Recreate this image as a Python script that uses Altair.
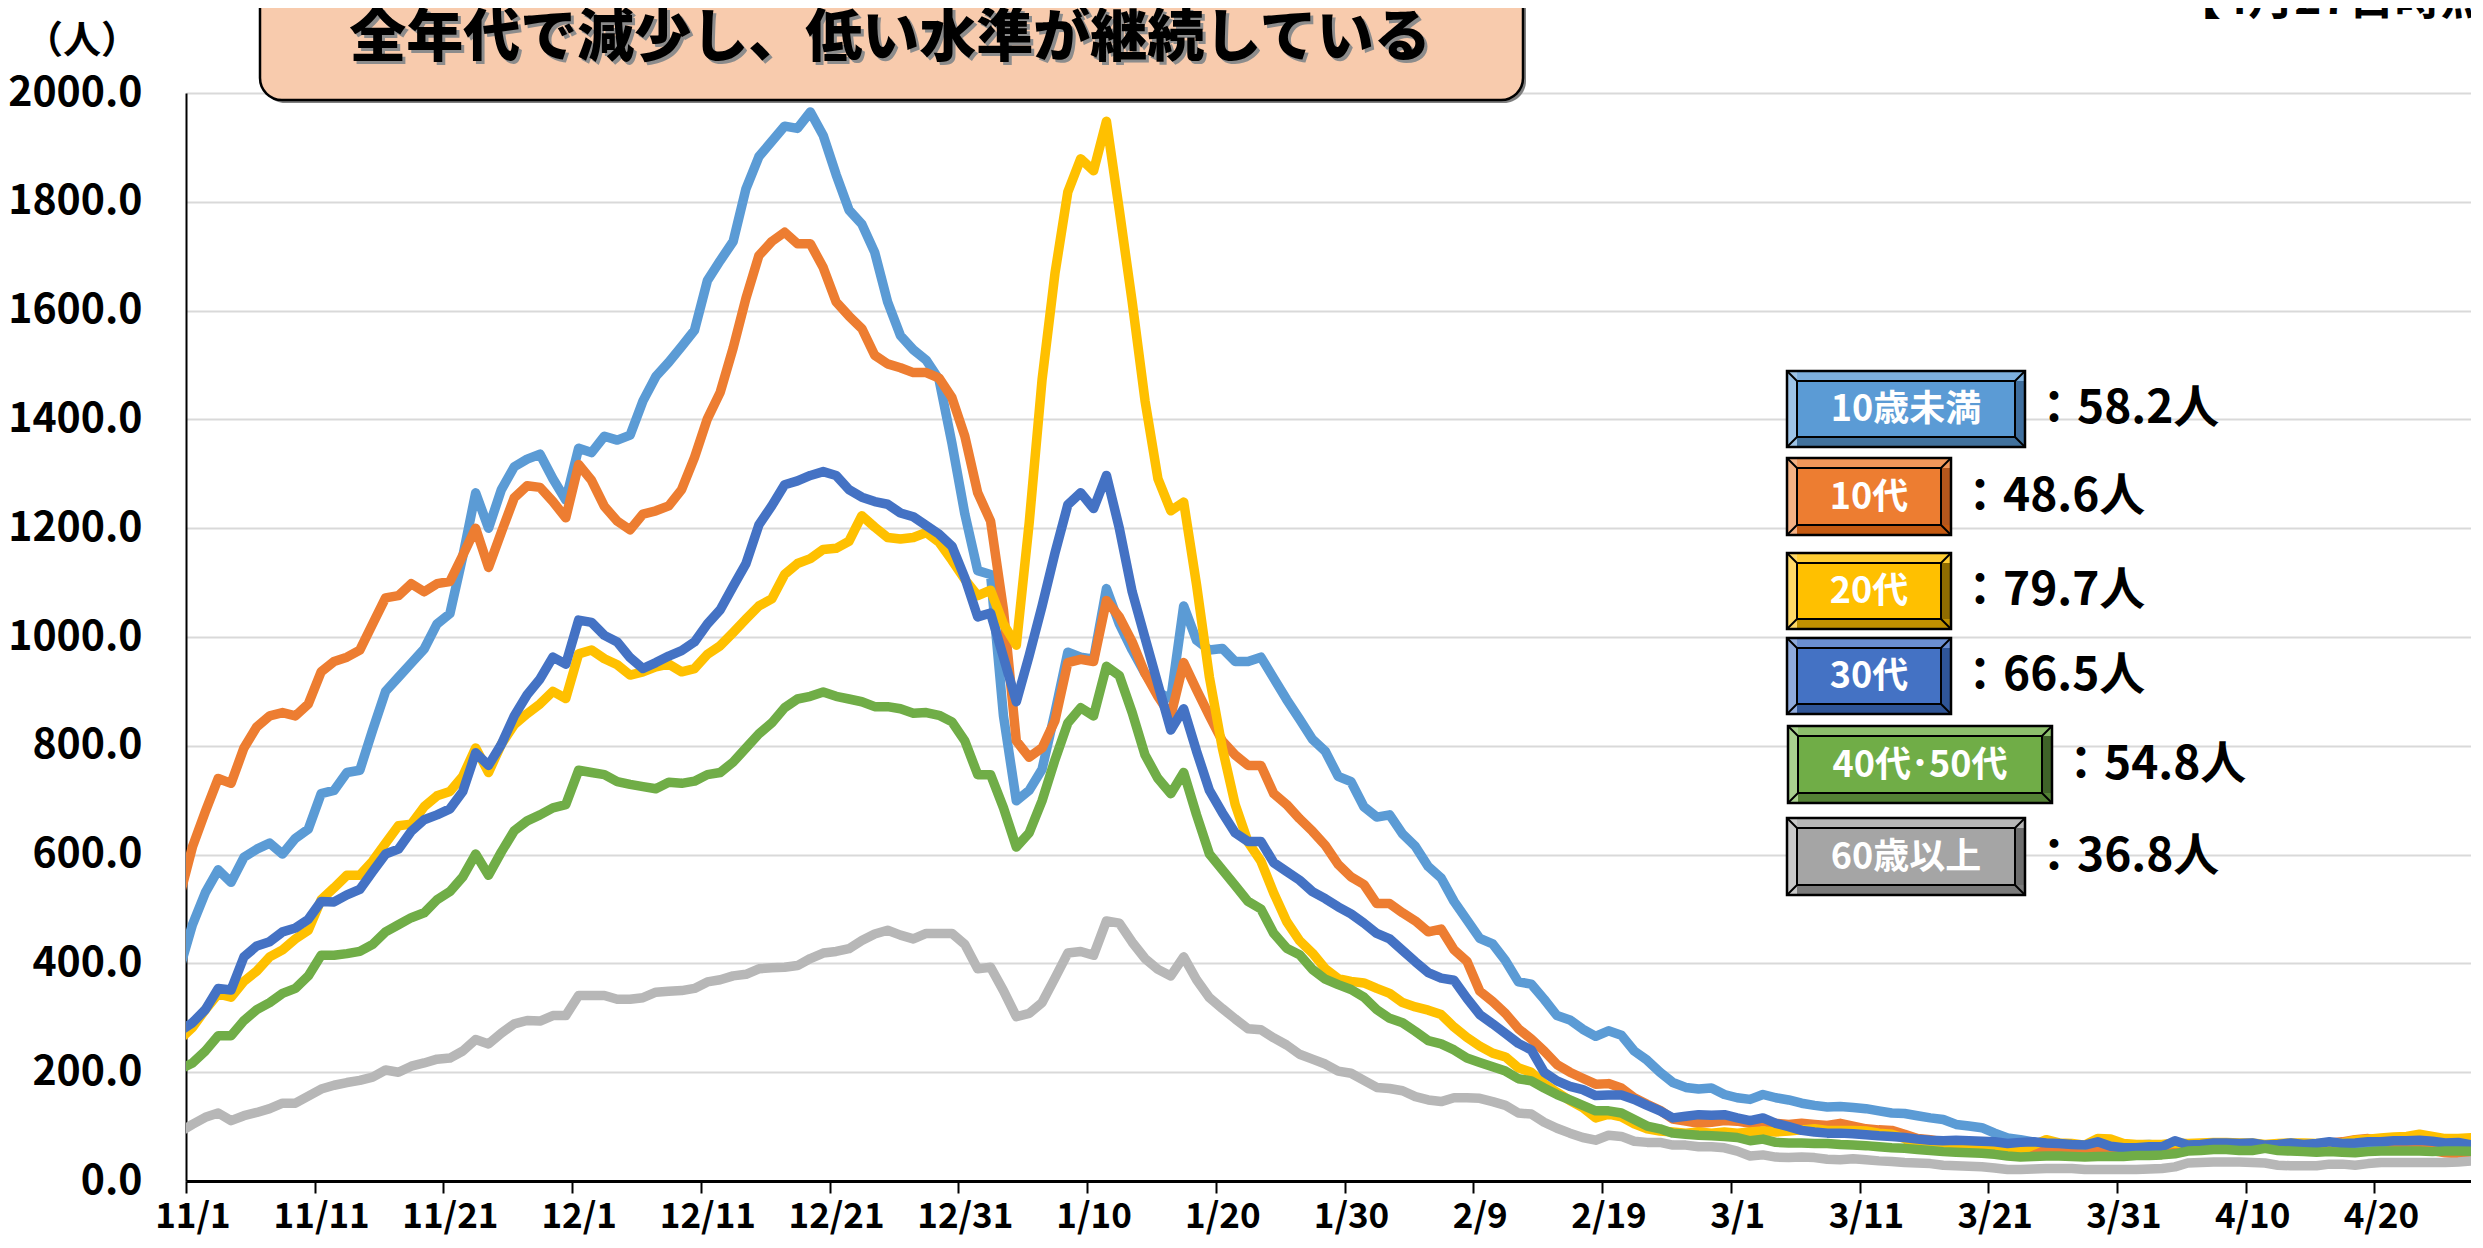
import altair as alt
import pandas as pd

FONT = "Noto Sans CJK JP"

# ---- data (daily values, 2022-10-31 .. 2023-04-27) ----
start_date = "2022-10-31"
series_names = ["10歳未満", "10代", "20代", "30代", "40代・50代", "60歳以上"]
box_labels = ["10歳未満", "10代", "20代", "30代", "40代･50代", "60歳以上"]
line_colors = ["#5B9BD5", "#ED7D31", "#FFC000", "#4472C4", "#70AD47", "#B7B7B7"]
latest_values = ["58.2", "48.6", "79.7", "66.5", "54.8", "36.8"]

u10 = [390,
       471, 530, 572, 549, 595, 610, 621, 601, 630, 647,
       712, 718, 751, 755, 829, 900, 926, 952, 978, 1024,
       1043, 1148, 1265, 1200, 1271, 1313, 1327, 1336, 1291, 1252,
       1347, 1339, 1369, 1362, 1371, 1434, 1479, 1505, 1534, 1564,
       1655, 1692, 1727, 1824, 1883, 1911, 1939, 1935, 1965, 1922,
       1850, 1785, 1759, 1707, 1616, 1554, 1528, 1509, 1473, 1356,
       1226, 1122, 1115, 855, 699, 718, 757, 861, 972, 963,
       959, 1089, 1024, 976, 933, 898, 887, 1057, 994, 976,
       979, 955, 955, 963, 924, 885, 849, 812, 790, 744,
       734, 688, 669, 673, 638, 615, 578, 557, 514, 480,
       446, 436, 405, 366, 362, 334, 304, 296, 279, 266,
       276, 268, 239, 222, 200, 181, 172, 169, 171, 159,
       153, 150, 159, 153, 149, 143, 139, 136, 137, 135,
       133, 129, 125, 124, 120, 116, 113, 104, 101, 98,
       88, 79, 76, 72, 64, 63, 61, 61, 60, 62,
       64, 66, 67, 65, 63, 62, 64, 63, 61, 60,
       62, 63, 62, 60, 59, 58, 60, 61, 60, 61,
       62, 60, 59, 60, 61, 60, 59, 58.2]

t10 = [523,
       614, 679, 740, 731, 796, 835, 855, 861, 855, 877,
       936, 955, 963, 976, 1024, 1072, 1076, 1098, 1083, 1098,
       1102, 1150, 1200, 1128, 1193, 1256, 1278, 1275, 1249, 1219,
       1317, 1288, 1240, 1213, 1197, 1226, 1232, 1241, 1271, 1330,
       1401, 1450, 1531, 1623, 1701, 1727, 1744, 1723, 1723, 1679,
       1616, 1590, 1567, 1518, 1502, 1495, 1486, 1486, 1476, 1440,
       1369, 1265, 1213, 1050, 809, 779, 796, 846, 953, 959,
       955, 1067, 1037, 991, 933, 891, 855, 953, 903, 855,
       809, 783, 764, 764, 712, 692, 666, 643, 617, 582,
       559, 545, 510, 510, 493, 478, 458, 463, 425, 404,
       349, 330, 308, 280, 261, 239, 214, 200, 189, 178,
       179, 171, 153, 141, 130, 114, 110, 106, 108, 111,
       110, 106, 109, 106, 104, 106, 104, 102, 106, 101,
       96, 94, 93, 86, 78, 76, 72, 70, 67, 66,
       61, 60, 60, 60, 58, 58, 59, 57, 56, 57,
       58, 60, 62, 63, 62, 61, 62, 63, 62, 60,
       61, 62, 63, 64, 66, 68, 70, 72, 76, 78,
       74, 70, 65, 60, 56, 52, 50, 48.6]

t20 = [260,
       282, 315, 344, 338, 367, 386, 412, 425, 445, 461,
       517, 539, 562, 562, 588, 621, 653, 656, 688, 708,
       716, 744, 796, 751, 803, 839, 859, 877, 900, 887,
       969, 976, 960, 949, 930, 936, 945, 950, 936, 942,
       968, 984, 1008, 1033, 1057, 1070, 1115, 1135, 1144, 1161,
       1163, 1176, 1223, 1202, 1183, 1180, 1183, 1192, 1174, 1141,
       1106, 1076, 1086, 1024, 985, 1210, 1473, 1668, 1818, 1879,
       1857, 1948, 1785, 1616, 1434, 1291, 1232, 1248, 1096, 926,
       796, 692, 623, 588, 529, 477, 442, 419, 390, 372,
       367, 364, 354, 345, 328, 320, 314, 306, 283, 264,
       248, 235, 228, 208, 200, 179, 163, 148, 135, 116,
       123, 118, 105, 96, 92, 90, 88, 90, 88, 90,
       88, 90, 92, 90, 92, 94, 96, 93, 93, 93,
       92, 88, 86, 78, 63, 60, 58, 58, 58, 56,
       55, 53, 56, 66, 76, 70, 69, 66, 78, 77,
       69, 67, 67, 67, 70, 69, 70, 71, 71, 70,
       70, 67, 69, 70, 70, 69, 70, 70, 75, 77,
       79, 81, 82, 86, 82, 78, 78, 79.7]

t30 = [275,
       291, 315, 354, 351, 412, 432, 440, 458, 465, 481,
       514, 513, 526, 536, 569, 601, 610, 643, 664, 673,
       684, 716, 787, 764, 803, 855, 894, 923, 963, 950,
       1031, 1027, 1003, 991, 962, 942, 953, 965, 975, 991,
       1024, 1050, 1093, 1135, 1206, 1241, 1280, 1287, 1297, 1304,
       1297, 1271, 1257, 1249, 1244, 1228, 1221, 1205, 1189, 1167,
       1109, 1037, 1044, 963, 881, 966, 1057, 1154, 1243, 1265,
       1236, 1297, 1200, 1083, 998, 913, 829, 868, 790, 718,
       677, 640, 624, 624, 585, 569, 553, 532, 519, 504,
       491, 474, 455, 445, 424, 403, 383, 373, 369, 336,
       306, 289, 271, 253, 241, 200, 184, 174, 168, 157,
       158, 158, 150, 139, 129, 116, 119, 122, 121, 122,
       116, 111, 116, 106, 100, 93, 90, 88, 88, 87,
       85, 83, 82, 80, 77, 75, 74, 75, 74, 73,
       72, 69, 71, 72, 70, 69, 67, 66, 72, 64,
       61, 61, 63, 63, 74, 66, 67, 70, 70, 69,
       70, 66, 67, 70, 67, 69, 72, 69, 70, 72,
       72, 74, 74, 75, 73, 70, 71, 66.5]

t40 = [205,
       217, 239, 267, 267, 295, 315, 328, 345, 354, 377,
       415, 415, 418, 422, 435, 458, 471, 484, 493, 517,
       532, 559, 601, 562, 605, 644, 662, 673, 686, 692,
       755, 751, 747, 734, 729, 725, 721, 733, 731, 735,
       747, 751, 770, 796, 822, 842, 870, 886, 891, 899,
       891, 886, 881, 872, 872, 868, 860, 861, 856, 844,
       809, 747, 747, 686, 614, 640, 699, 774, 842, 870,
       855, 946, 929, 861, 783, 740, 712, 751, 673, 601,
       572, 543, 514, 500, 455, 428, 416, 389, 371, 361,
       352, 338, 315, 299, 291, 275, 258, 252, 241, 226,
       218, 210, 202, 188, 184, 171, 159, 149, 139, 129,
       129, 125, 113, 101, 96, 88, 86, 84, 83, 82,
       80, 74, 77, 71, 70, 70, 69, 69, 67, 66,
       65, 63, 61, 60, 58, 56, 54, 53, 52, 51,
       49, 46, 44, 45, 46, 46, 45, 44, 45, 45,
       45, 47, 47, 48, 50, 55, 56, 58, 58, 56,
       56, 60, 56, 55, 54, 53, 54, 53, 52, 54,
       55, 55, 55, 55, 54, 55, 55, 54.8]

t60 = [90,
       104, 117, 125, 111, 120, 126, 133, 143, 143, 156,
       169, 176, 181, 185, 191, 204, 200, 211, 217, 224,
       226, 239, 260, 252, 272, 289, 295, 294, 304, 304,
       341, 341, 341, 334, 334, 337, 347, 349, 350, 354,
       366, 370, 377, 380, 390, 392, 393, 396, 409, 419,
       422, 427, 442, 454, 461, 452, 445, 455, 455, 455,
       435, 390, 393, 350, 302, 308, 328, 373, 419, 422,
       415, 478, 474, 439, 409, 389, 377, 412, 370, 337,
       317, 298, 280, 278, 263, 250, 233, 224, 215, 202,
       198, 185, 172, 170, 166, 155, 149, 146, 153, 153,
       152, 146, 139, 125, 123, 108, 97, 88, 80, 75,
       84, 82, 73, 71, 71, 66, 66, 63, 63, 61,
       55, 46, 48, 44, 43, 44, 43, 40, 39, 41,
       39, 37, 36, 34, 33, 32, 29, 28, 27, 26,
       24, 21, 21, 22, 23, 23, 23, 21, 21, 21,
       21, 21, 22, 23, 26, 33, 34, 35, 35, 35,
       34, 33, 29, 28, 28, 28, 31, 31, 29, 32,
       34, 34, 34, 34, 34, 34, 35, 36.8]

all_series = [u10, t10, t20, t30, t40, t60]

# ---- build table ----
dates = pd.date_range(start_date, periods=len(u10), freq="D") + pd.Timedelta(hours=12)
date_str = list(dates.strftime("%Y-%m-%dT%H:%M:%S"))
frames = []
for name, vals in zip(series_names, all_series):
    assert len(vals) == len(date_str), (name, len(vals))
    frames.append(pd.DataFrame({"date": date_str, "value": vals, "group": name}))
df = pd.concat(frames, ignore_index=True)

W, H = 2285, 1088

x_domain = [alt.DateTime(year=2022, month=11, date=1),
            alt.DateTime(year=2023, month=4, date=27, hours=12)]
tick_dates = pd.date_range("2022-11-01", "2023-04-20", freq="10D")
tick_vals = [alt.DateTime(year=int(d.year), month=int(d.month), date=int(d.day)) for d in tick_dates]
day_px = W / 177.5

x_axis = alt.Axis(values=tick_vals, format="%-m/%-d", formatType="time", title=None,
                  labelFont=FONT, labelFontSize=35, labelFontWeight="bold", labelColor="black",
                  labelOffset=day_px / 2, labelPadding=34, labelBaseline="alphabetic",
                  tickSize=12, tickColor="black",
                  tickWidth=2, domainColor="black", domainWidth=3, grid=False,
                  labelOverlap=False, labelFlush=False)
y_axis = alt.Axis(values=list(range(0, 2001, 200)), format=".1f", title=None,
                  labelFont=FONT, labelFontSize=41, labelFontWeight="bold", labelColor="black",
                  labelPadding=44, ticks=False, domainColor="black", domainWidth=2,
                  grid=True, gridColor="#D9D9D9", gridWidth=2)

base = alt.Chart(df).encode(
    x=alt.X("date:T", scale=alt.Scale(domain=x_domain), axis=x_axis),
    y=alt.Y("value:Q", scale=alt.Scale(domain=[0, 2000], nice=False), axis=y_axis),
)
line_layers = [
    base.transform_filter(alt.datum.group == name).mark_line(
        color=col, strokeWidth=9.5, strokeJoin="round", strokeCap="round", clip=True)
    for name, col in zip(series_names, line_colors)
]

# ---- annotation helpers (pixel positions in plot coordinates) ----
one = pd.DataFrame({"k": [0]})


def rect(x0, y0, x1, y1, **kw):
    return alt.Chart(one).mark_rect(**kw).encode(
        x=alt.value(x0), x2=alt.value(x1), y=alt.value(y0), y2=alt.value(y1))


def rule(x0, y0, x1, y1, **kw):
    return alt.Chart(one).mark_rule(**kw).encode(
        x=alt.value(x0), x2=alt.value(x1), y=alt.value(y0), y2=alt.value(y1))


def text(x, y, s, **kw):
    return alt.Chart(one).mark_text(text=s, font=FONT, **kw).encode(
        x=alt.value(x), y=alt.value(y))


TITLE = "全年代で減少し、低い水準が継続している"
annots = []
# title box
annots.append(rect(77, -130, 1340, 10, fill="#7F7F7F", cornerRadius=22))
annots.append(rect(74, -130, 1337, 7, fill="#F8CBAD", stroke="black", strokeWidth=2.5, cornerRadius=22))
annots.append(text(707, -51, TITLE, fontSize=57, fontWeight=900,
                   align="center", baseline="middle", color="#8C8C8C"))
annots.append(text(704, -54, TITLE, fontSize=57, fontWeight=900,
                   align="center", baseline="middle", color="black"))
annots.append(text(-104, -51, "（人）", fontSize=38, fontWeight="bold", align="center",
                   baseline="middle", color="black"))
annots.append(text(1989, -79, "【4月27日時点】", fontSize=46, fontWeight="bold", align="left",
                   baseline="alphabetic", color="black"))

# legend boxes
box_pos = [(1601, 278, 1839, 354), (1601, 365, 1765, 442), (1601, 460, 1765, 536),
           (1601, 545, 1765, 621), (1602, 633, 1866, 710), (1601, 725, 1839, 802)]
bevels = [
    ("#5B9BD5", "#7DAFDD", "#9DC3E6", "#41719C", "#3F6F9F"),
    ("#ED7D31", "#F1975A", "#F4B183", "#C55A11", "#B4561C"),
    ("#FFC000", "#FFCD33", "#FFD966", "#BF9000", "#8F6C00"),
    ("#4472C4", "#6A8ED0", "#8FAADC", "#2F5597", "#2F5597"),
    ("#70AD47", "#8DBF6C", "#A9D18E", "#548235", "#3F6228"),
    ("#A5A5A5", "#B7B7B7", "#C9C9C9", "#7B7B7B", "#6E6E6E"),
]
b = 10
for (x0, y0, x1, y1), (main, top, left, bottom, right), name, val in zip(
        box_pos, bevels, box_labels, latest_values):
    annots.append(rect(x0, y0, x1, y1, fill=bottom))
    annots.append(rect(x0, y0, x1, y0 + b, fill=top))
    annots.append(rect(x1 - b, y0 + b, x1, y1 - b, fill=right))
    annots.append(rect(x0, y0, x0 + b, y1, fill=left))
    annots.append(rect(x0 + b, y1 - b, x1, y1, fill=bottom))
    for (ax, ay, bx, by) in [(x0, y0, x0 + b, y0 + b), (x1, y0, x1 - b, y0 + b),
                             (x0, y1, x0 + b, y1 - b), (x1, y1, x1 - b, y1 - b)]:
        annots.append(rule(ax, ay, bx, by, color="black", strokeWidth=2))
    annots.append(rect(x0, y0, x1, y1, fill=None, fillOpacity=0, stroke="black", strokeWidth=2.5))
    annots.append(rect(x0 + b, y0 + b, x1 - b, y1 - b, fill=main, stroke="black", strokeWidth=2))
    annots.append(text((x0 + x1) / 2, (y0 + y1) / 2 + 1, name, fontSize=36, fontWeight="bold",
                       align="center", baseline="middle", color="white"))
    annots.append(text(x1 + 6, (y0 + y1) / 2, "：" + val + "人", fontSize=46, fontWeight="bold",
                       align="left", baseline="middle", color="black"))

chart = alt.layer(*line_layers, *annots).properties(
    width=W, height=H,
    autosize=alt.AutoSizeParams(type="none"),
    padding={"left": 178, "top": 85, "right": 0, "bottom": 55},
).configure_view(stroke=None)

chart.save("out.html", embed_options={"renderer": "svg", "actions": False})
